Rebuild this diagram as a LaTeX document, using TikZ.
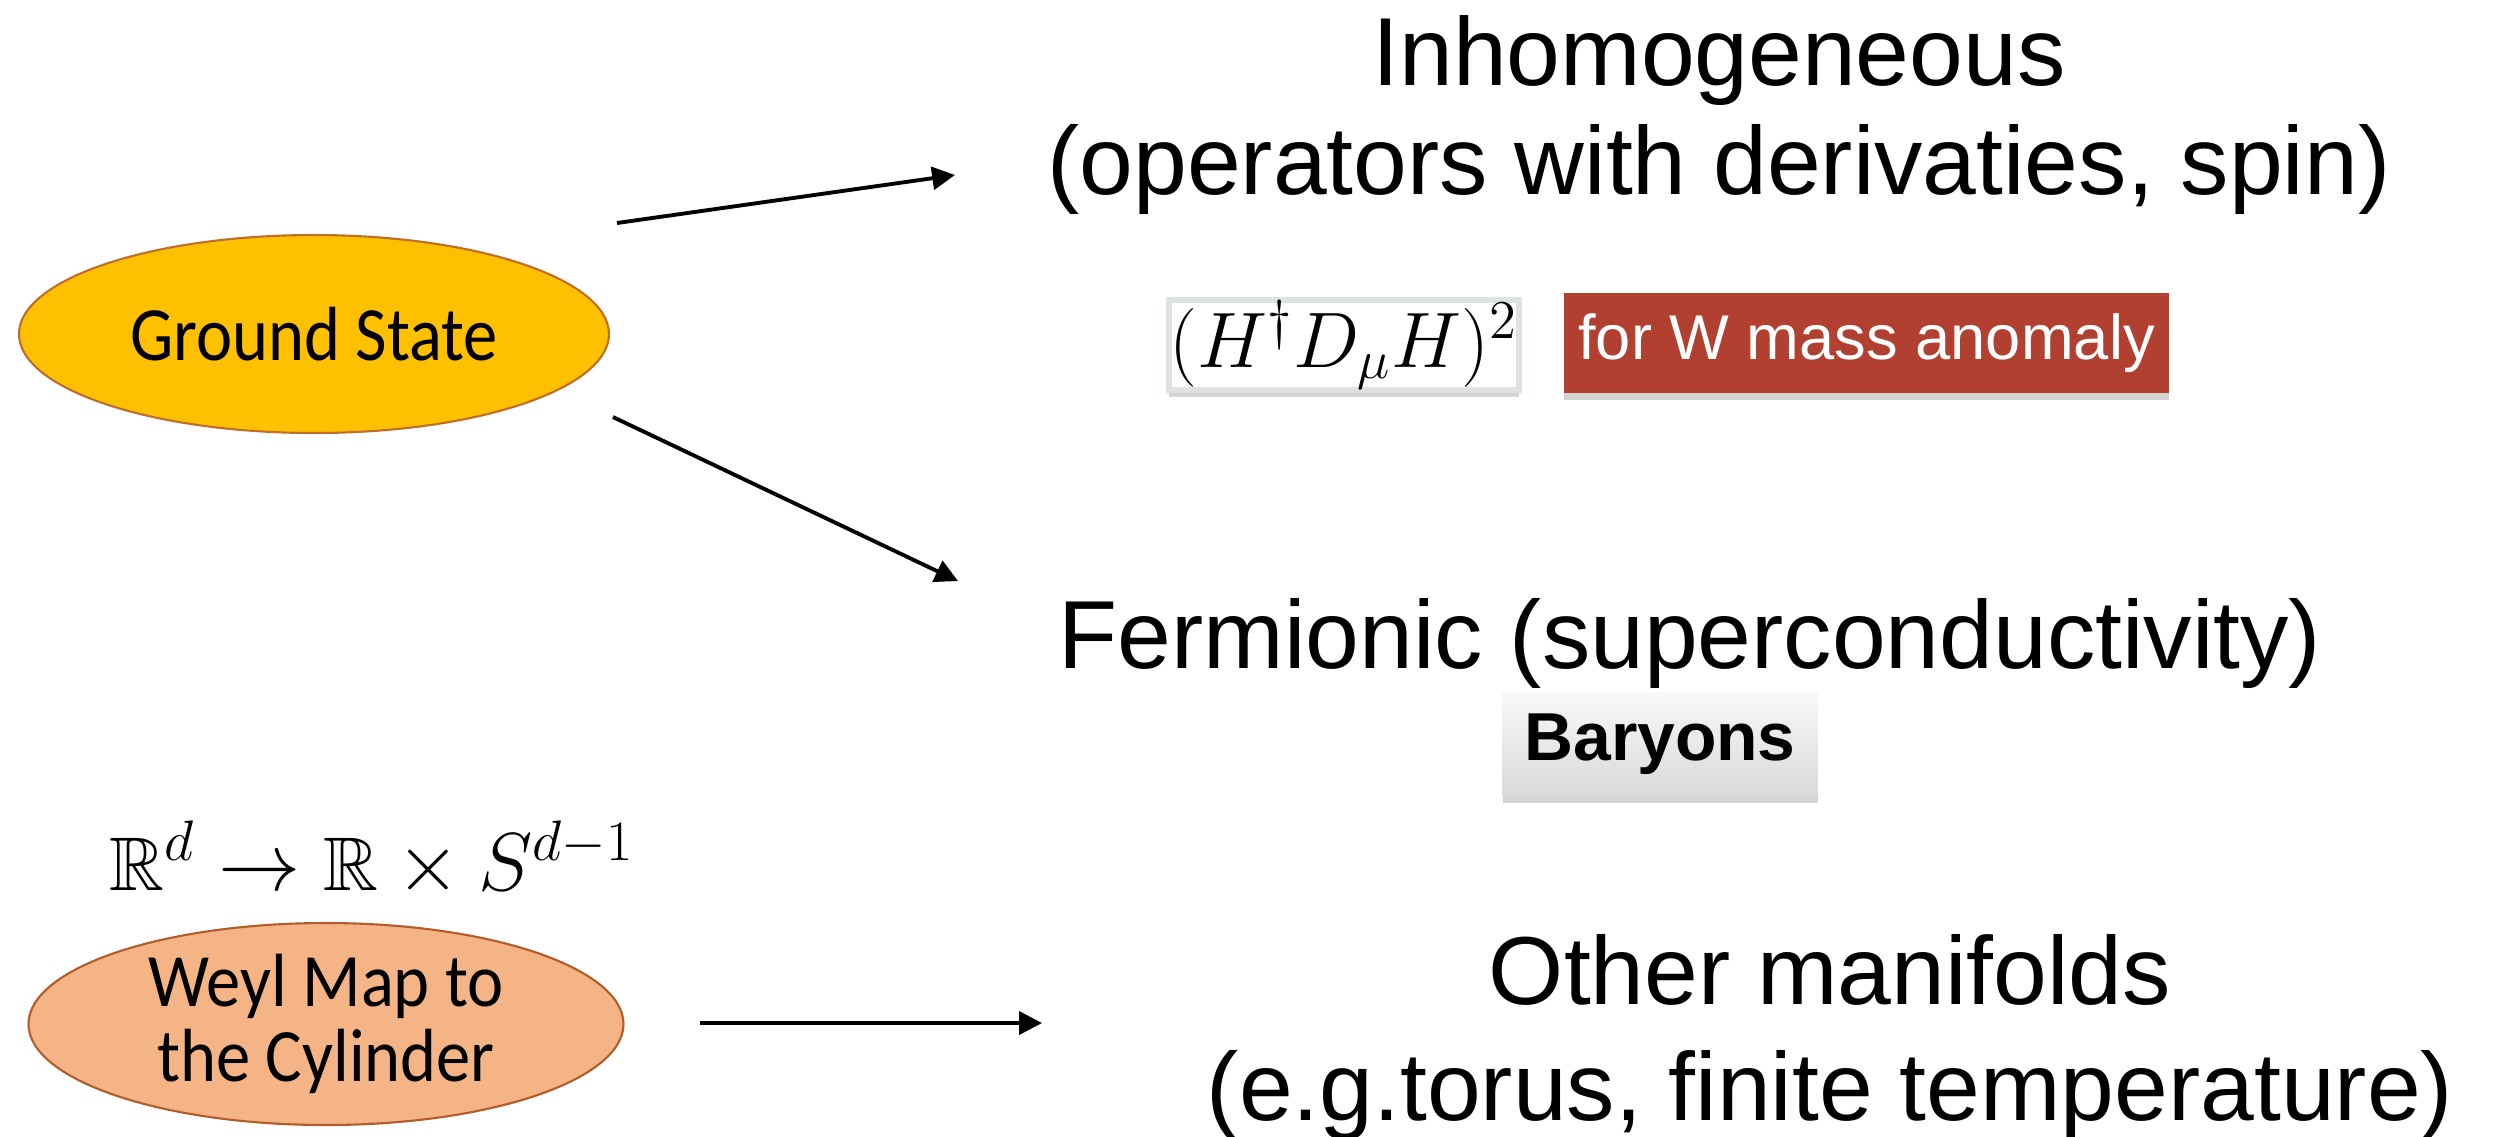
\documentclass[tikz,border=0pt]{standalone}
\usepackage{amssymb}
\usepackage{fontspec}
\usetikzlibrary{shapes,arrows.meta,shadows}
\setmainfont{Liberation Sans}
\newfontfamily\carlito{Carlito}
\definecolor{gsfill}{RGB}{255,192,0}
\definecolor{gsedge}{RGB}{190,110,40}
\definecolor{weylfill}{RGB}{244,180,134}
\definecolor{weyledge}{RGB}{178,92,40}
\definecolor{wred}{RGB}{178,64,48}
\definecolor{boxedge}{RGB}{222,226,226}
\tikzset{
  oval/.style={draw,ellipse,line width=0.6pt,inner sep=0pt,align=center,
    font=\carlito\fontsize{19.5}{19.5}\selectfont},
  bigtext/.style={align=center,inner sep=0pt},
  tag/.style={rectangle,inner sep=0pt,
    drop shadow={shadow xshift=0pt,shadow yshift=-2pt,opacity=0.35}},
  link/.style={-{Triangle[length=6.5pt,width=6.5pt]},line width=1.1pt},
}

\begin{document}
\begin{tikzpicture}
\useasboundingbox (0,0) rectangle (24.95,-11.36);

\node[oval,fill=gsfill,draw=gsedge,minimum width=5.90cm,minimum height=1.98cm] (GS) at (3.14,-3.34) {\scalebox{1}[1.12]{Ground State}};
\node[oval,fill=weylfill,draw=weyledge,minimum width=5.95cm,minimum height=2.02cm] (Weyl) at (3.26,-10.24) {\scalebox{1}[1.1]{Weyl Map to}\\[2pt]\scalebox{1}[1.1]{the Cylinder}};
\node[inner sep=0pt] (Rmap) at (3.72,-8.59) {\scalebox{0.94}{\fontsize{23}{26}\selectfont$\mathbb{R}^d\rightarrow\mathbb{R}\times S^{d-1}$}};

\node[bigtext,font=\fontsize{27.5}{31}\selectfont] (Inh) at (17.19,-1.15) {Inhomogeneous\\(operators with derivaties, spin)};
\node[bigtext,font=\fontsize{27.5}{30}\selectfont] (Ferm) at (16.90,-6.43) {Fermionic (superconductivity)};
\node[bigtext,font=\fontsize{27.5}{33}\selectfont] (Other) at (18.30,-10.37) {Other manifolds\\(e.g.torus, finite temperature)};

\node[tag,fill=white,draw=boxedge,line width=1.5pt,minimum width=3.50cm,minimum height=0.90cm] (HDH) at (13.44,-3.45) {\scalebox{1.08}{\fontsize{20}{24}\selectfont$(H^\dagger D_\mu H)^2$}};
\node[tag,fill=wred,text=white,minimum width=6.05cm,minimum height=1.00cm] (Wmass) at (18.665,-3.43) {\fontsize{18}{22}\selectfont for W mass anomaly};
\node[tag,top color=gray!5,bottom color=gray!30,minimum width=3.15cm,minimum height=1.04cm] (Bar) at (16.60,-7.44) {\bfseries\fontsize{19.3}{23}\selectfont Baryons};

\coordinate (s1) at (6.17,-2.23);
\coordinate (e1) at (9.55,-1.75);
\coordinate (s2) at (6.13,-4.17);
\coordinate (e2) at (9.58,-5.81);
\coordinate (s3) at (7.00,-10.23);
\coordinate (e3) at (10.42,-10.23);

\path[link] (s1) edge (e1);
\path[link] (s2) edge (e2);
\path[link] (s3) edge (e3);
\end{tikzpicture}
\end{document}
